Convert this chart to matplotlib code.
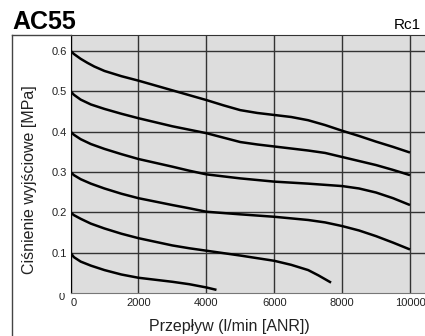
import matplotlib
matplotlib.use('Agg')
import matplotlib.pyplot as plt
from matplotlib.lines import Line2D
from matplotlib.transforms import Bbox

plt.rcParams['font.family'] = ['Liberation Sans', 'DejaVu Sans']

# flow characteristics, one curve per set pressure (flow l/min ANR, outlet MPa)
flow_06 = [0, 100, 300, 500, 700, 1000, 1500, 2000, 3000, 4000, 4500, 5000, 5500, 6000,
           6500, 7000, 7500, 8000, 8500, 9000, 9500, 10000]
p_06 = [0.6, 0.592, 0.580, 0.570, 0.561, 0.550, 0.537, 0.526, 0.502, 0.478, 0.465, 0.453,
        0.446, 0.441, 0.436, 0.428, 0.416, 0.402, 0.389, 0.375, 0.362, 0.348]

flow_05 = [0, 100, 300, 600, 1000, 1500, 2000, 3000, 4000, 4500, 5000, 5500, 6000, 7000,
           7500, 8000, 8500, 9000, 9500, 10000]
p_05 = [0.5, 0.491, 0.479, 0.467, 0.456, 0.444, 0.433, 0.413, 0.396, 0.385, 0.374, 0.368,
        0.363, 0.353, 0.347, 0.337, 0.327, 0.317, 0.305, 0.292]

flow_04 = [0, 100, 300, 600, 1000, 1500, 2000, 3000, 3500, 4000, 5000, 6000, 7000, 8000,
           8500, 9000, 9500, 10000]
p_04 = [0.4, 0.392, 0.381, 0.369, 0.357, 0.344, 0.332, 0.313, 0.303, 0.294, 0.284, 0.276,
        0.271, 0.265, 0.259, 0.249, 0.235, 0.218]

flow_03 = [0, 100, 300, 600, 1000, 1500, 2000, 3000, 3500, 4000, 5000, 6000, 7000, 7500,
           8000, 8500, 9000, 9500, 10000]
p_03 = [0.3, 0.292, 0.282, 0.271, 0.259, 0.246, 0.235, 0.218, 0.210, 0.2015, 0.195, 0.189,
        0.181, 0.175, 0.166, 0.155, 0.141, 0.125, 0.108]

flow_02 = [0, 100, 300, 600, 1000, 1500, 2000, 3000, 3500, 4000, 5000, 6000, 6500, 7000,
           7300, 7675]
p_02 = [0.2, 0.193, 0.184, 0.172, 0.160, 0.147, 0.136, 0.118, 0.111, 0.105, 0.093, 0.080,
        0.070, 0.057, 0.044, 0.026]

flow_01 = [0, 100, 300, 600, 1000, 1500, 2000, 2500, 3000, 3500, 4000, 4300]
p_01 = [0.1, 0.089, 0.078, 0.068, 0.057, 0.046, 0.038, 0.033, 0.028, 0.022, 0.014, 0.008]

x_ticks = [0, 2000, 4000, 6000, 8000, 10000]
y_ticks = [0.1, 0.2, 0.3, 0.4, 0.5, 0.6]

W, H = 425, 336
fig = plt.figure(figsize=(W/100, H/100), dpi=100)
ax = fig.add_axes([70.5/W, 1-293.1/H, (W-70.5)/W, (293.1-35)/H])
ax.set_facecolor('#dddddd')

for fl, p in [(flow_06, p_06), (flow_05, p_05), (flow_04, p_04),
              (flow_03, p_03), (flow_02, p_02), (flow_01, p_01)]:
    ax.plot(fl, p, color='black', lw=1.8, solid_capstyle='butt', solid_joinstyle='round', zorder=3)

ax.set_xlim(0, 10442)
ax.set_ylim(0, 0.639)
ax.set_xticks(x_ticks)
ax.set_xticklabels([str(v) for v in x_ticks])
ax.set_yticks(y_ticks)
ax.set_yticklabels([str(v) for v in y_ticks])
ax.get_xticklabels()[0].set_ha('left')
ax.grid(color='#333333', lw=1.0, zorder=1)
ax.set_axisbelow(True)
ax.tick_params(axis='both', length=0, labelsize=8, labelcolor='#222222')
ax.tick_params(axis='y', pad=2.5)
ax.tick_params(axis='x', pad=3.6)

ax.spines['right'].set_visible(False)
ax.spines['left'].set_color('black')
ax.spines['top'].set_color('#333333')
ax.spines['bottom'].set_color('#777777')

# outer frame
fig.add_artist(Line2D([12/W, 12/W], [0, 1-35/H], color='#444444', lw=1))
fig.add_artist(Line2D([12/W, 71/W], [1-35/H, 1-35/H], color='#444444', lw=1))

# y "0" label, partly hidden at the top
t0 = fig.text(62/W, 1-297/H, '0', ha='center', va='center', fontsize=8, color='#222222')
t0.set_clip_box(Bbox.from_extents(0, 0, W, H-293))
t0.set_clip_on(True)

fig.text(12/W, 1-29/H, 'AC55', fontsize=18, fontweight='bold', ha='left', va='baseline')
fig.text(394/W, 1-29/H, 'Rc1', fontsize=11, ha='left', va='baseline')

fig.text(229/W, 1-326/H, 'Przepływ (l/min [ANR])', fontsize=11.5, ha='center', va='center', color='#222222')
fig.text(30/W, 1-180/H, 'Ciśnienie wyjściowe [MPa]', fontsize=11.5, rotation=90,
         ha='center', va='center', color='#222222')

fig.savefig('out.png', dpi=100)
